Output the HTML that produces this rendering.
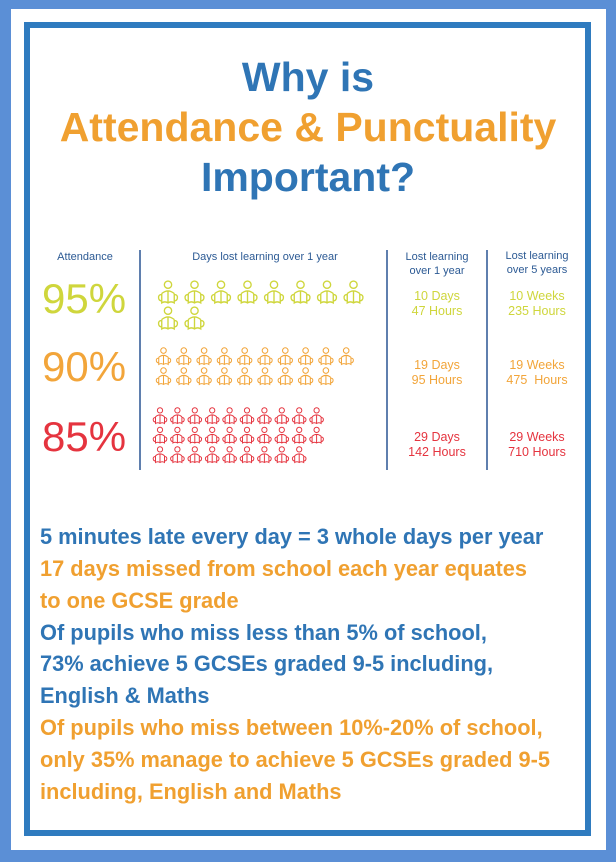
<!DOCTYPE html>
<html><head><meta charset="utf-8"><style>
*{margin:0;padding:0;box-sizing:border-box}
body{width:616px;height:862px;background:#5b8fd6;position:relative;overflow:hidden;font-family:"Liberation Sans",sans-serif}
#white{position:absolute;left:11px;top:9px;width:595px;height:841px;background:#fff}
#inner{position:absolute;left:24px;top:22px;width:567px;height:814px;border:6px solid #2f7bbf;background:#fff}
.t{position:absolute;white-space:nowrap}
.title{left:0;width:616px;text-align:center;font-weight:bold;font-size:41px}
.hd{font-size:11px;color:#2c5a94;text-align:center;line-height:14px}
.pct{font-size:42px;left:42px}
.val{font-size:12.5px;text-align:center;line-height:15px}
.vl{position:absolute;width:2px;background:#5f7fae;top:250px;height:220px}
.bt{left:40px;font-weight:bold;font-size:21.8px}
.b{color:#2f75b5}.o{color:#f0a030}
</style></head><body>
<div id="white"></div><div id="inner"></div>
<div class="t title b" style="top:54px">Why is</div>
<div class="t title o" style="top:104px">Attendance &amp; Punctuality</div>
<div class="t title b" style="top:154px">Important?</div>

<div class="t hd" style="left:40px;width:90px;top:250px">Attendance</div>
<div class="t hd" style="left:145px;width:240px;top:250px">Days lost learning over 1 year</div>
<div class="t hd" style="left:389px;width:96px;top:250px">Lost learning<br>over 1 year</div>
<div class="t hd" style="left:489px;width:96px;top:249px">Lost learning<br>over 5 years</div>
<div class="vl" style="left:139px"></div><div class="vl" style="left:386px"></div><div class="vl" style="left:486px"></div>

<div class="t pct" style="top:275px;color:#cfd63c">95%</div>
<div class="t pct" style="top:343px;color:#f2a53a">90%</div>
<div class="t pct" style="top:413px;color:#e5343f">85%</div>

<div class="t val" style="left:389px;width:96px;top:289px;color:#cfd63c">10 Days<br>47 Hours</div>
<div class="t val" style="left:489px;width:96px;top:289px;color:#cfd63c">10 Weeks<br>235 Hours</div>
<div class="t val" style="left:389px;width:96px;top:358px;color:#f2a53a">19 Days<br>95 Hours</div>
<div class="t val" style="left:489px;width:96px;top:358px;color:#f2a53a">19 Weeks<br>475&nbsp; Hours</div>
<div class="t val" style="left:389px;width:96px;top:430px;color:#e5343f">29 Days<br>142 Hours</div>
<div class="t val" style="left:489px;width:96px;top:430px;color:#e5343f">29 Weeks<br>710 Hours</div>

<svg style="position:absolute;left:0;top:0" width="616" height="862">
<defs><symbol id="p" viewBox="0 0 20 24"><g fill="none" stroke-width="1.3">
<circle cx="10" cy="4.5" r="3.5"/>
<path d="M4 13 Q10 8 16 13 M4 13 L4 22 Q7 20 10 22 Q13 20 16 22 L16 13 M10 11 L10 22 M4 14 Q0.5 14 1 17.5 Q1.5 20 4 20 M16 14 Q19.5 14 19 17.5 Q18.5 20 16 20"/></g></symbol></defs>
<g stroke="#cfd63c" id="g1"></g><g stroke="#f2a53a" id="g2"></g><g stroke="#e5343f" id="g3"></g>
</svg>
<div class="t bt b" style="top:524px">5 minutes late every day = 3 whole days per year</div>
<div class="t bt o" style="top:556px">17 days missed from school each year equates</div>
<div class="t bt o" style="top:588px">to one GCSE grade</div>
<div class="t bt b" style="top:620px">Of pupils who miss less than 5% of school,</div>
<div class="t bt b" style="top:651px">73% achieve 5 GCSEs graded 9-5 including,</div>
<div class="t bt b" style="top:683px">English &amp; Maths</div>
<div class="t bt o" style="top:715px">Of pupils who miss between 10%-20% of school,</div>
<div class="t bt o" style="top:747px">only 35% manage to achieve 5 GCSEs graded 9-5</div>
<div class="t bt o" style="top:779px">including, English and Maths</div>
<script>
function add(id,rows,x0,dx,y0,dy,w,h){var g=document.getElementById(id),s="";
rows.forEach(function(n,r){for(var i=0;i<n;i++)s+='<use href="#p" x="'+(x0+i*dx)+'" y="'+(y0+r*dy)+'" width="'+w+'" height="'+h+'" style="stroke:inherit"/>';});
g.innerHTML=s;}
add("g1",[8,2],157,26.5,280,26,22,25);
add("g2",[10,9],155,20.3,347,20,17,19);
add("g3",[10,10,9],152,17.4,407,19.5,16,18);
</script>
</body></html>
